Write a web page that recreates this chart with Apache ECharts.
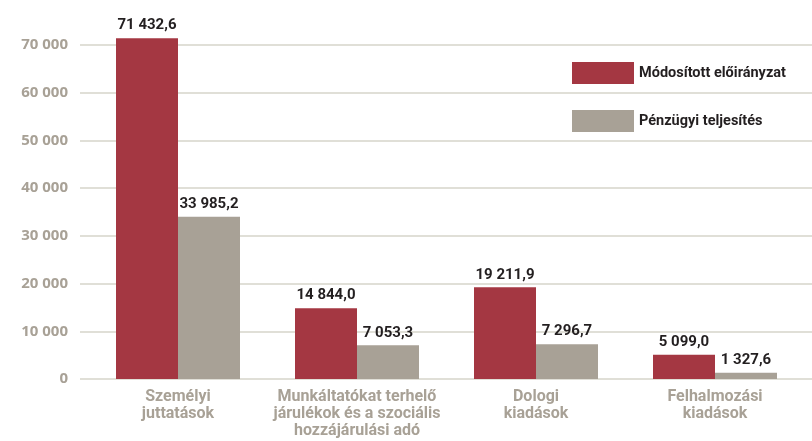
<!DOCTYPE html>
<html>
<head>
<meta charset="utf-8">
<script src="https://cdn.jsdelivr.net/npm/echarts@6/dist/echarts.min.js"></script>
<style>
  html, body { margin: 0; padding: 0; background: #fff; }
  #main { width: 812px; height: 441px; }
</style>
</head>
<body>
<div id="main"></div>
<script>
// chart data
var categories = [
  'Személyi\njuttatások',
  'Munkáltatókat terhelő\njárulékok és a szociális\nhozzájárulási adó',
  'Dologi\nkiadások',
  'Felhalmozási\nkiadások'
]
var seriesNames = ['Módosított előirányzat', 'Pénzügyi teljesítés']
var modositott = [71432.6, 14844.0, 19211.9, 5099.0]
var teljesites = [33985.2, 7053.3, 7296.7, 1327.6]

var narrow = 'Roboto, sans-serif'
var gray = '#a8a196'
var red = '#a43742'

// hungarian number format: space as thousand sep, comma decimal
function huNum(v, dec) {
  var s = v.toFixed(dec)
  var parts = s.split('.')
  var int = parts[0].replace(/\B(?=(\d{3})+(?!\d))/g, ' ')
  return parts.length > 1 ? int + ',' + parts[1] : int
}

var chart = echarts.init(document.getElementById('main'))

var valueLabel = {
  show: true,
  position: 'top',
  distance: 5,
  color: '#231f20',
  fontFamily: narrow,
  fontWeight: 'bold',
  fontSize: 15,
  formatter: function(p) { return huNum(p.value, 1) }
}

chart.setOption({
  animation: false,
  grid: [
    { left: 80, right: 0, top: 45, bottom: 62 },
    { left: 88.5, right: 7.5, top: 45, bottom: 62 }
  ],
  legend: {
    orient: 'vertical',
    left: 567,
    top: 57,
    itemWidth: 62,
    itemHeight: 22,
    itemGap: 26,
    icon: 'rect',
    data: seriesNames,
    textStyle: {
      color: '#231f20',
      fontFamily: narrow,
      fontWeight: 'bold',
      fontSize: 14.5,
      padding: [0, 0, 0, 0]
    }
  },
  xAxis: [
    { type: 'category', gridIndex: 0, data: categories, show: false },
    {
      type: 'category',
      gridIndex: 1,
      data: categories,
      axisLine: { show: false },
      axisTick: { show: false },
      axisLabel: {
        interval: 0,
        margin: 9,
        color: gray,
        fontFamily: narrow,
        fontWeight: 'bold',
        fontSize: 16,
        lineHeight: 17
      }
    }
  ],
  yAxis: [
    {
      type: 'value',
      gridIndex: 0,
      min: 0,
      max: 70000,
      interval: 10000,
      axisLine: { show: false },
      axisTick: { show: false },
      splitLine: { lineStyle: { color: '#d6d4ca', width: 1.5 } },
      axisLabel: {
        margin: 12,
        color: gray,
        fontFamily: '"Open Sans", sans-serif',
        fontWeight: 'bold',
        fontSize: 15,
        formatter: function(v) { return huNum(v, 0) }
      }
    },
    {
      type: 'value',
      gridIndex: 1,
      min: 0,
      max: 70000,
      interval: 10000,
      show: false,
      splitLine: { show: false }
    }
  ],
  series: [
    {
      name: seriesNames[0],
      type: 'bar',
      xAxisIndex: 1,
      yAxisIndex: 1,
      data: modositott,
      barWidth: 62,
      barGap: '0%',
      clip: false,
      itemStyle: { color: red },
      label: valueLabel
    },
    {
      name: seriesNames[1],
      type: 'bar',
      xAxisIndex: 1,
      yAxisIndex: 1,
      data: teljesites,
      barWidth: 62,
      barGap: '0%',
      clip: false,
      itemStyle: { color: gray },
      label: valueLabel
    }
  ]
})
</script>
</body>
</html>
